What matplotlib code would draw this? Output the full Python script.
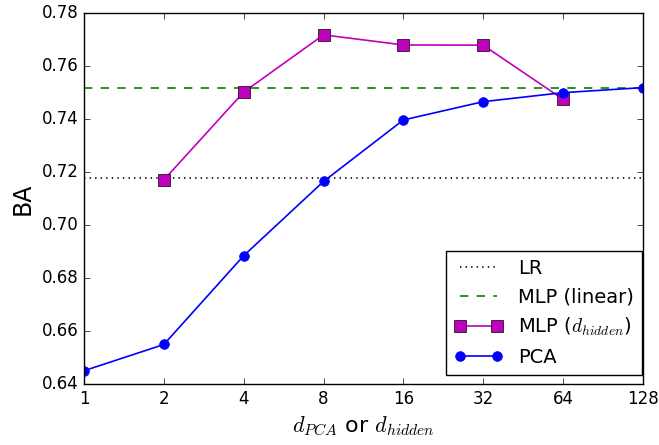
import numpy as np
import matplotlib
matplotlib.use('Agg')
import matplotlib.pyplot as plt
from matplotlib.ticker import FixedLocator, FixedFormatter, NullLocator

# Dades
dims = [1, 2, 4, 8, 16, 32, 64, 128]
dims_mlp = [2, 4, 8, 16, 32, 64]
ba_pca = [0.6451, 0.6550, 0.6885, 0.7165, 0.7397, 0.7466, 0.7500, 0.7519]
ba_mlp = [0.7171, 0.7502, 0.7718, 0.7680, 0.7679, 0.7475]
ba_lr = 0.7177
ba_mlp_lin = 0.7519
xtick_labels = ['1', '2', '4', '8', '16', '32', '64', '128']
yticks = [0.64, 0.66, 0.68, 0.70, 0.72, 0.74, 0.76, 0.78]

plt.style.use('classic')
plt.rcParams['figure.facecolor'] = 'white'
plt.rcParams['savefig.facecolor'] = 'white'

fig = plt.figure(figsize=(6.59, 4.45), dpi=100)
ax = fig.add_axes([0.1275, 0.1365, 0.848, 0.834])

ax.set_xscale('log', base=2)
ax.axhline(ba_lr, color='k', linestyle=':', linewidth=1.2, label='LR')
ax.axhline(ba_mlp_lin, color='g', linestyle='--', dashes=(6, 6), linewidth=1.2, label='MLP (linear)')
ax.plot(dims_mlp, ba_mlp, color='m', marker='s', markersize=8, markeredgecolor='k',
        linewidth=1.2, label='MLP ($d_{hidden}$)')
ax.plot(dims, ba_pca, color='b', marker='o', markersize=7, markeredgecolor='b',
        linewidth=1.2, label='PCA')

ax.set_xlim(1, 128)
ax.set_ylim(0.64, 0.78)
ax.xaxis.set_major_locator(FixedLocator(dims))
ax.xaxis.set_major_formatter(FixedFormatter(xtick_labels))
ax.xaxis.set_minor_locator(NullLocator())
ax.set_yticks(yticks)
ax.set_yticklabels(['%.2f' % v for v in yticks])
ax.tick_params(labelsize=12)

ax.set_xlabel('$d_{PCA}$ or $d_{hidden}$', fontsize=16)
ax.set_ylabel('BA', fontsize=17)
ax.legend(loc='lower right', fontsize=14, numpoints=2, handlelength=2.5,
          bbox_to_anchor=(0.998, 0.025), borderaxespad=0)

fig.savefig('out.png', dpi=100)
